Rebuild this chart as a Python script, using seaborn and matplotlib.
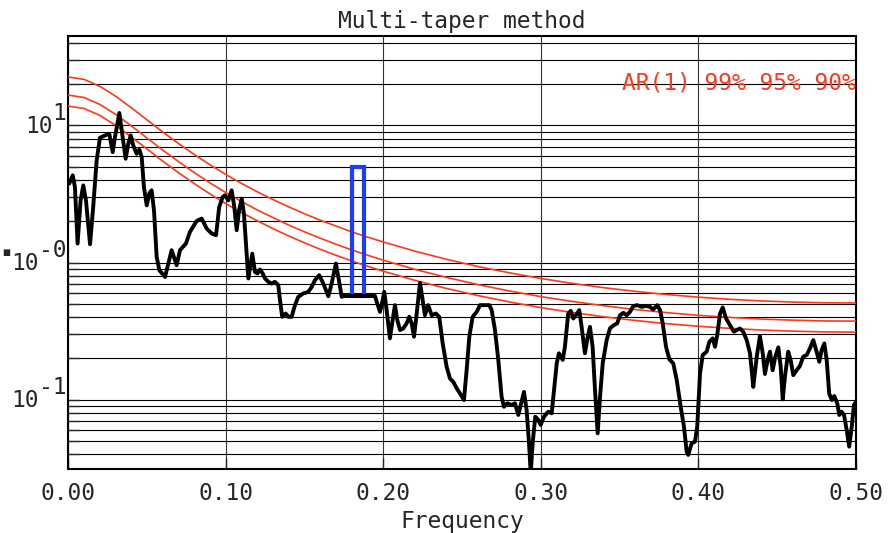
import numpy as np
import matplotlib
matplotlib.use('Agg')
import matplotlib.pyplot as plt
import seaborn as sns
from matplotlib.ticker import FixedLocator, LogLocator, NullFormatter

# spectrum
spec_freq = [0.0005, 0.0027, 0.0041, 0.0058, 0.0077, 0.0094, 0.0111, 0.0137, 0.0157, 0.0179,
             0.0200, 0.0232, 0.0259, 0.0281, 0.0295, 0.0323, 0.0344, 0.0363, 0.0380, 0.0395,
             0.0411, 0.0433, 0.0450, 0.0465, 0.0479, 0.0497, 0.0513, 0.0528, 0.0543, 0.0560,
             0.0577, 0.0613, 0.0634, 0.0655, 0.0687, 0.0708, 0.0746, 0.0771, 0.0814, 0.0846,
             0.0877, 0.0909, 0.0937, 0.0957, 0.0979, 0.0994, 0.1015, 0.1036, 0.1053, 0.1068,
             0.1083, 0.1100, 0.1114, 0.1131, 0.1142, 0.1157, 0.1167, 0.1184, 0.1199, 0.1216,
             0.1233, 0.1248, 0.1269, 0.1290, 0.1311, 0.1332, 0.1343, 0.1357, 0.1379, 0.1396,
             0.1417, 0.1438, 0.1459, 0.1491, 0.1523, 0.1544, 0.1565, 0.1592, 0.1618, 0.1650,
             0.1671, 0.1698, 0.1717, 0.1735, 0.1745, 0.1802, 0.1878, 0.1946, 0.1957, 0.1978,
             0.1995, 0.2005, 0.2020, 0.2041, 0.2058, 0.2073, 0.2088, 0.2105, 0.2126, 0.2147,
             0.2164, 0.2179, 0.2194, 0.2211, 0.2232, 0.2249, 0.2263, 0.2284, 0.2306, 0.2333,
             0.2354, 0.2376, 0.2401, 0.2422, 0.2443, 0.2465, 0.2486, 0.2511, 0.2528, 0.2545,
             0.2566, 0.2592, 0.2613, 0.2644, 0.2672, 0.2687, 0.2708, 0.2729, 0.2750, 0.2765,
             0.2786, 0.2814, 0.2835, 0.2856, 0.2877, 0.2892, 0.2909, 0.2924, 0.2935, 0.2947,
             0.2964, 0.2983, 0.2998, 0.3019, 0.3046, 0.3068, 0.3083, 0.3100, 0.3114, 0.3138,
             0.3152, 0.3173, 0.3189, 0.3205, 0.3222, 0.3243, 0.3258, 0.3279, 0.3297, 0.3311,
             0.3328, 0.3343, 0.3360, 0.3375, 0.3392, 0.3417, 0.3438, 0.3463, 0.3484, 0.3502,
             0.3523, 0.3544, 0.3565, 0.3586, 0.3611, 0.3639, 0.3667, 0.3692, 0.3713, 0.3738,
             0.3756, 0.3773, 0.3794, 0.3815, 0.3840, 0.3862, 0.3887, 0.3908, 0.3925, 0.3935,
             0.3957, 0.3978, 0.3992, 0.4010, 0.4027, 0.4052, 0.4069, 0.4090, 0.4105, 0.4119,
             0.4137, 0.4154, 0.4175, 0.4200, 0.4225, 0.4243, 0.4263, 0.4284, 0.4306, 0.4327,
             0.4338, 0.4348, 0.4370, 0.4390, 0.4408, 0.4422, 0.4439, 0.4454, 0.4471, 0.4488,
             0.4507, 0.4522, 0.4535, 0.4549, 0.4570, 0.4585, 0.4602, 0.4623, 0.4644, 0.4665,
             0.4687, 0.4708, 0.4729, 0.4750, 0.4767, 0.4782, 0.4799, 0.4814, 0.4830, 0.4846,
             0.4862, 0.4881, 0.4894, 0.4909, 0.4924, 0.4941, 0.4957, 0.4973, 0.4987, 0.5000]
spec_power = [3.76, 4.32, 3.55, 1.375, 2.84, 3.65, 2.84, 1.36, 2.54, 5.55,
              8.12, 8.44, 8.69, 6.38, 8.20, 12.3, 8.20, 5.71, 7.35, 8.44,
              7.14, 6.21, 6.64, 5.87, 3.55, 2.61, 3.18, 3.36, 2.40, 1.10,
              0.879, 0.785, 0.983, 1.23, 0.956, 1.23, 1.375, 1.67, 2.01, 2.09,
              1.77, 1.63, 1.58, 2.54, 3.00, 3.09, 2.84, 3.36, 2.54, 1.72,
              2.40, 2.92, 2.27, 1.16, 0.765, 0.983, 1.16, 0.855, 0.832, 0.889,
              0.832, 0.765, 0.723, 0.703, 0.723, 0.684, 0.532, 0.402, 0.425, 0.402,
              0.402, 0.489, 0.562, 0.595, 0.611, 0.664, 0.743, 0.809, 0.703, 0.568,
              0.703, 0.983, 0.743, 0.562, 0.57, 0.57, 0.57, 0.57, 0.517, 0.437,
              0.532, 0.611, 0.450, 0.280, 0.380, 0.489, 0.380, 0.322, 0.331, 0.360,
              0.402, 0.360, 0.288, 0.425, 0.711, 0.532, 0.413, 0.489, 0.413, 0.425,
              0.402, 0.257, 0.174, 0.143, 0.135, 0.121, 0.111, 0.0995, 0.164, 0.288,
              0.402, 0.437, 0.489, 0.489, 0.489, 0.450, 0.322, 0.195, 0.105, 0.0889,
              0.0942, 0.0915, 0.0942, 0.0774, 0.0967, 0.114, 0.0841, 0.0482, 0.029, 0.0482,
              0.0752, 0.0712, 0.0655, 0.0752, 0.0818, 0.0796, 0.118, 0.184, 0.218, 0.195,
              0.243, 0.425, 0.444, 0.391, 0.413, 0.450, 0.340, 0.218, 0.288, 0.340,
              0.243, 0.118, 0.0569, 0.105, 0.184, 0.272, 0.331, 0.350, 0.360, 0.413,
              0.430, 0.413, 0.437, 0.481, 0.489, 0.475, 0.483, 0.475, 0.455, 0.489,
              0.450, 0.360, 0.243, 0.197, 0.184, 0.139, 0.0889, 0.0636, 0.0418, 0.0396,
              0.0482, 0.0495, 0.0636, 0.156, 0.212, 0.224, 0.264, 0.280, 0.243, 0.296,
              0.425, 0.470, 0.391, 0.350, 0.313, 0.322, 0.331, 0.313, 0.272, 0.218,
              0.164, 0.124, 0.206, 0.291, 0.218, 0.154, 0.195, 0.224, 0.164, 0.206,
              0.241, 0.174, 0.1006, 0.147, 0.224, 0.195, 0.151, 0.164, 0.176, 0.206,
              0.212, 0.237, 0.272, 0.224, 0.189, 0.230, 0.257, 0.195, 0.111, 0.0995,
              0.1064, 0.0942, 0.0774, 0.0818, 0.0774, 0.0602, 0.0455, 0.0636, 0.0915, 0.0967]

# AR(1) red-noise confidence levels
red_freq = [0.00, 0.01, 0.02, 0.03, 0.04, 0.05, 0.06, 0.07, 0.08, 0.09, 0.10,
            0.11, 0.12, 0.13, 0.14, 0.15, 0.16, 0.17, 0.18, 0.19, 0.20,
            0.22, 0.24, 0.26, 0.28, 0.30, 0.32, 0.34, 0.36, 0.38, 0.40,
            0.42, 0.44, 0.46, 0.48, 0.50]
red_99 = [22.5, 21.6, 19.2, 16.27, 13.39, 10.92, 8.91, 7.34, 6.11, 5.14, 4.37,
          3.76, 3.27, 2.87, 2.54, 2.26, 2.03, 1.84, 1.67, 1.53, 1.41,
          1.21, 1.055, 0.935, 0.841, 0.765, 0.704, 0.655, 0.616, 0.584, 0.559,
          0.539, 0.525, 0.515, 0.509, 0.507]
red_95 = [16.6, 15.94, 14.18, 12.00, 9.88, 8.05, 6.57, 5.42, 4.51, 3.79, 3.23,
          2.78, 2.41, 2.12, 1.87, 1.67, 1.50, 1.356, 1.233, 1.129, 1.038,
          0.891, 0.779, 0.690, 0.620, 0.564, 0.520, 0.484, 0.454, 0.431, 0.412,
          0.398, 0.387, 0.380, 0.375, 0.374]
red_90 = [13.8, 13.25, 11.79, 9.98, 8.21, 6.70, 5.46, 4.50, 3.75, 3.15, 2.68,
          2.31, 2.01, 1.76, 1.557, 1.388, 1.246, 1.127, 1.025, 0.938, 0.863,
          0.741, 0.647, 0.574, 0.516, 0.469, 0.432, 0.402, 0.378, 0.358, 0.343,
          0.331, 0.322, 0.316, 0.312, 0.311]

# highlighted band
band_freq = [0.1802, 0.1878]
band_power = [0.571, 4.96]

xtick_vals = [0.0, 0.1, 0.2, 0.3, 0.4, 0.5]
xtick_labels = ['0.00', '0.10', '0.20', '0.30', '0.40', '0.50']
ytick_vals = [0.1, 1.0, 10.0]
ytick_exps = ['-1', '-0', '1']

RED = '#ff3a1a'
BLUE = '#1c3cff'

sns.set_style('ticks')
plt.rcParams['font.family'] = ['DejaVu Sans Mono', 'DejaVu Sans']
plt.rcParams['font.size'] = 16.5

fig, ax = plt.subplots(figsize=(8.95, 5.33), dpi=100)
fig.subplots_adjust(left=0.0765, right=0.9564, top=0.9325, bottom=0.1195)
ax.set_yscale('log')

for vals in (red_99, red_95, red_90):
    sns.lineplot(x=red_freq, y=vals, color=RED, lw=1.2, estimator=None, sort=False, ax=ax, zorder=3)

ax.bar((band_freq[0] + band_freq[1]) / 2, band_power[1] - band_power[0],
       width=band_freq[1] - band_freq[0], bottom=band_power[0],
       fill=False, edgecolor=BLUE, linewidth=3, zorder=4)

sns.lineplot(x=spec_freq, y=spec_power, color='black', lw=2.8, estimator=None, sort=False, ax=ax, zorder=5)

ax.set_xlim(0, 0.5)
ax.set_ylim(0.0311, 44.8)

ax.xaxis.set_major_locator(FixedLocator(xtick_vals))
ax.set_xticklabels(xtick_labels)
ax.yaxis.set_major_locator(FixedLocator(ytick_vals))
ax.yaxis.set_minor_locator(LogLocator(base=10, subs=np.arange(2, 10), numticks=20))
ax.yaxis.set_major_formatter(NullFormatter())
ax.yaxis.set_minor_formatter(NullFormatter())

ax.grid(which='both', axis='y', color='black', lw=0.8, zorder=1)
ax.grid(which='major', axis='x', color='#333333', lw=0.8, zorder=1)
ax.set_axisbelow(True)

ax.tick_params(axis='both', which='both', direction='in', length=8, width=1,
               top=False, right=False, labelsize=16.5, pad=9)
for s in ax.spines.values():
    s.set_linewidth(1.5)
    s.set_color('black')

# y tick labels in the "10^e" style, exponent at full size
for v, e in zip(ytick_vals, ytick_exps):
    ax.annotate(e, xy=(0, v), xycoords=('axes fraction', 'data'),
                xytext=(-2, 12), textcoords='offset pixels',
                ha='right', va='center', fontsize=16.5)
    ax.annotate('10', xy=(0, v), xycoords=('axes fraction', 'data'),
                xytext=(-2 - 14 * len(e), -1), textcoords='offset pixels',
                ha='right', va='center', fontsize=16.5)

ax.set_title('Multi-taper method', fontsize=16.5, pad=6)
ax.set_xlabel('Frequency', fontsize=16.5, labelpad=4)
ax.set_ylabel('')
ax.text(0.5, 20.5, 'AR(1) 99% 95% 90%', color=RED, ha='right', va='center', fontsize=16.5, zorder=6)
fig.text(0.0075, 1 - 252 / 533, '\u25aa', fontsize=12, ha='center', va='center')

fig.savefig('out.png', dpi=100)
